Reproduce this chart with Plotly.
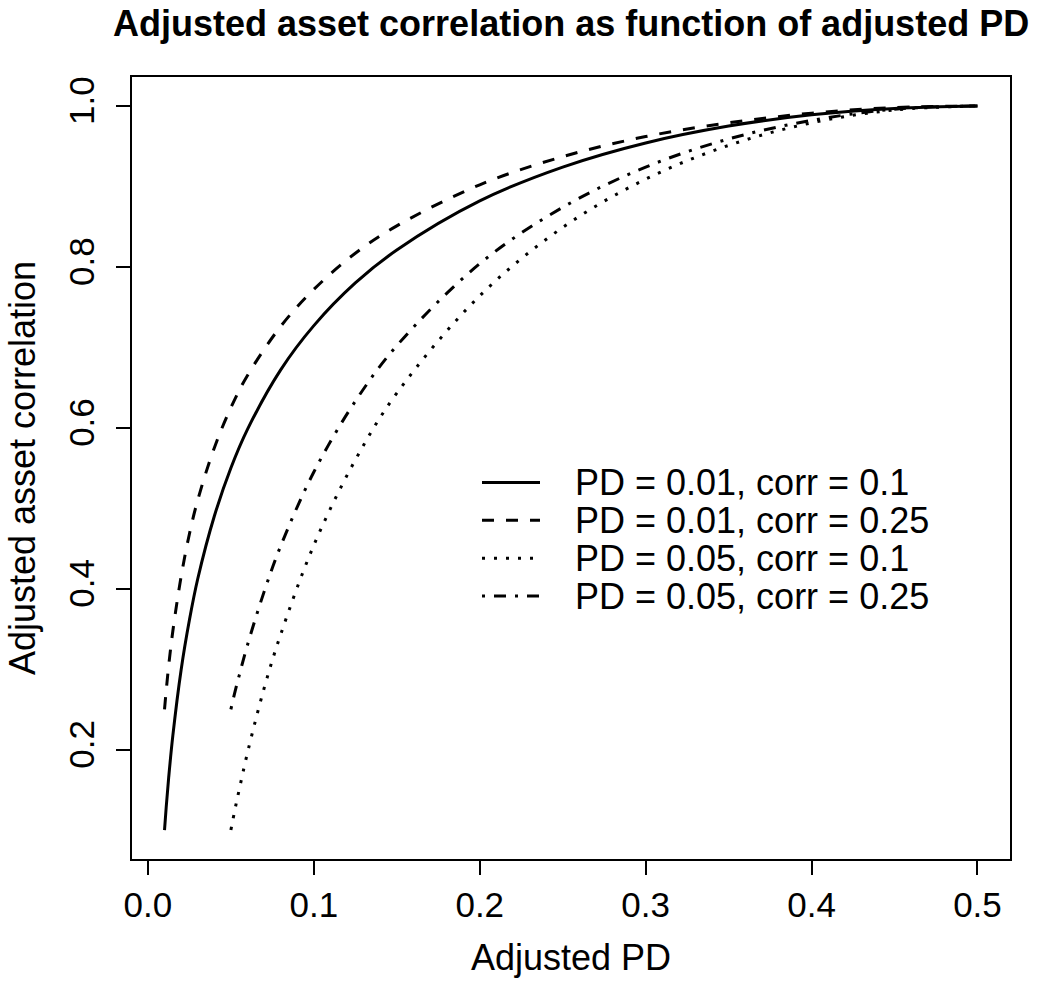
import plotly.graph_objects as go

# ---- data ----
x_pd01 = [0.01, 0.011, 0.0125, 0.015, 0.02, 0.025, 0.03, 0.04, 0.05, 0.06, 0.08,
          0.1, 0.125, 0.15, 0.2, 0.25, 0.3, 0.35, 0.4, 0.45, 0.5]
corr_pd01_c10 = [0.100, 0.128, 0.165, 0.217, 0.299, 0.361, 0.412, 0.490, 0.550, 0.598, 0.672,
                 0.727, 0.780, 0.821, 0.882, 0.924, 0.954, 0.975, 0.989, 0.997, 1.000]
corr_pd01_c25 = [0.250, 0.273, 0.304, 0.347, 0.415, 0.468, 0.510, 0.575, 0.625, 0.665, 0.726,
                 0.772, 0.817, 0.851, 0.902, 0.937, 0.962, 0.979, 0.991, 0.998, 1.000]
x_pd05 = [0.05, 0.0525, 0.055, 0.06, 0.07, 0.08, 0.1, 0.125, 0.15, 0.2, 0.25,
          0.3, 0.35, 0.4, 0.45, 0.5]
corr_pd05_c10 = [0.100, 0.126, 0.150, 0.196, 0.276, 0.343, 0.454, 0.560, 0.643, 0.764, 0.849,
                 0.909, 0.951, 0.979, 0.995, 1.000]
corr_pd05_c25 = [0.250, 0.272, 0.292, 0.330, 0.396, 0.453, 0.545, 0.633, 0.702, 0.804, 0.874,
                 0.924, 0.959, 0.982, 0.996, 1.000]

series_names = ["PD = 0.01, corr = 0.1", "PD = 0.01, corr = 0.25",
                "PD = 0.05, corr = 0.1", "PD = 0.05, corr = 0.25"]
x_ticks = [0.0, 0.1, 0.2, 0.3, 0.4, 0.5]
x_tick_labels = ["0.0", "0.1", "0.2", "0.3", "0.4", "0.5"]
y_ticks = [0.2, 0.4, 0.6, 0.8, 1.0]
y_tick_labels = ["0.2", "0.4", "0.6", "0.8", "1.0"]

# ---- styling ----
OFF = 0  # body margin removed by post_script below
W, H = 1044 - OFF, 983 - OFF
# plot box in window pixels: left 132, right 1010, top 77, bottom 862
L, T = 132 - OFF, 77 - OFF
R = W - (1010 - OFF)
B = H - (862 - OFF)
PW, PH = W - L - R, H - T - B
FONT = "Liberation Sans, Arial, Helvetica, sans-serif"
LW = 3
dashes = ["solid", "12px,12px", "3px,9px", "3px,9px,12px,9px"]
xs = [x_pd01, x_pd01, x_pd05, x_pd05]
ys = [corr_pd01_c10, corr_pd01_c25, corr_pd05_c10, corr_pd05_c25]

def px_x(p):  # window pixel -> paper x
    return (p - OFF - L) / PW

def px_y(p):  # window pixel -> paper y
    return (H - B - (p - OFF)) / PH

fig = go.Figure()
for xv, yv, nm, ds in zip(xs, ys, series_names, dashes):
    fig.add_trace(go.Scatter(x=xv, y=yv, name=nm, mode="lines",
                             line=dict(color="black", width=LW, dash=ds, shape="spline"),
                             showlegend=False))

# legend drawn as in R (no box)
leg_rows = [484, 522, 560, 598]
leg_x0, leg_x1, leg_text_x = 482, 540, 573
for nm, ds, yy in zip(series_names, dashes, leg_rows):
    fig.add_shape(type="line", xref="paper", yref="paper",
                  x0=px_x(leg_x0), x1=px_x(leg_x1), y0=px_y(yy), y1=px_y(yy),
                  line=dict(color="black", width=LW, dash=ds))
    fig.add_annotation(xref="paper", yref="paper", x=px_x(leg_text_x), y=px_y(yy),
                       xanchor="left", yanchor="middle", text=nm, showarrow=False,
                       font=dict(family=FONT, size=36, color="black"))

fig.add_annotation(xref="paper", yref="paper", x=0.5, y=px_y(23),
                   xanchor="center", yanchor="middle", borderpad=0,
                   text="<b>Adjusted asset correlation as function of adjusted PD</b>",
                   showarrow=False, font=dict(family=FONT, size=36, color="black"))

axis_common = dict(showline=True, mirror=True, linecolor="black", linewidth=1.5,
                   ticks="outside", ticklen=14, tickwidth=1.5, tickcolor="black",
                   showgrid=False, zeroline=False,
                   tickfont=dict(family=FONT, size=35, color="black"))

fig.update_layout(
    width=W, height=H,
    margin=dict(l=L, r=R, t=T, b=B),
    paper_bgcolor="white", plot_bgcolor="white",
    showlegend=False,
    xaxis=dict(range=[-0.0096, 0.5196], tickvals=x_ticks, ticktext=x_tick_labels,
               title=dict(text="Adjusted PD", font=dict(family=FONT, size=36, color="black"),
                          standoff=22),
               **axis_common),
    yaxis=dict(range=[0.064, 1.036], tickvals=y_ticks, ticktext=y_tick_labels,
               tickangle=-90, ticklabelstandoff=8,
               title=dict(text="Adjusted asset correlation",
                          font=dict(family=FONT, size=36, color="black"), standoff=16),
               **axis_common),
)

fig.write_html("out.html", config={"displayModeBar": False},
               post_script="document.body.style.margin='0';document.body.style.overflow='hidden';")
